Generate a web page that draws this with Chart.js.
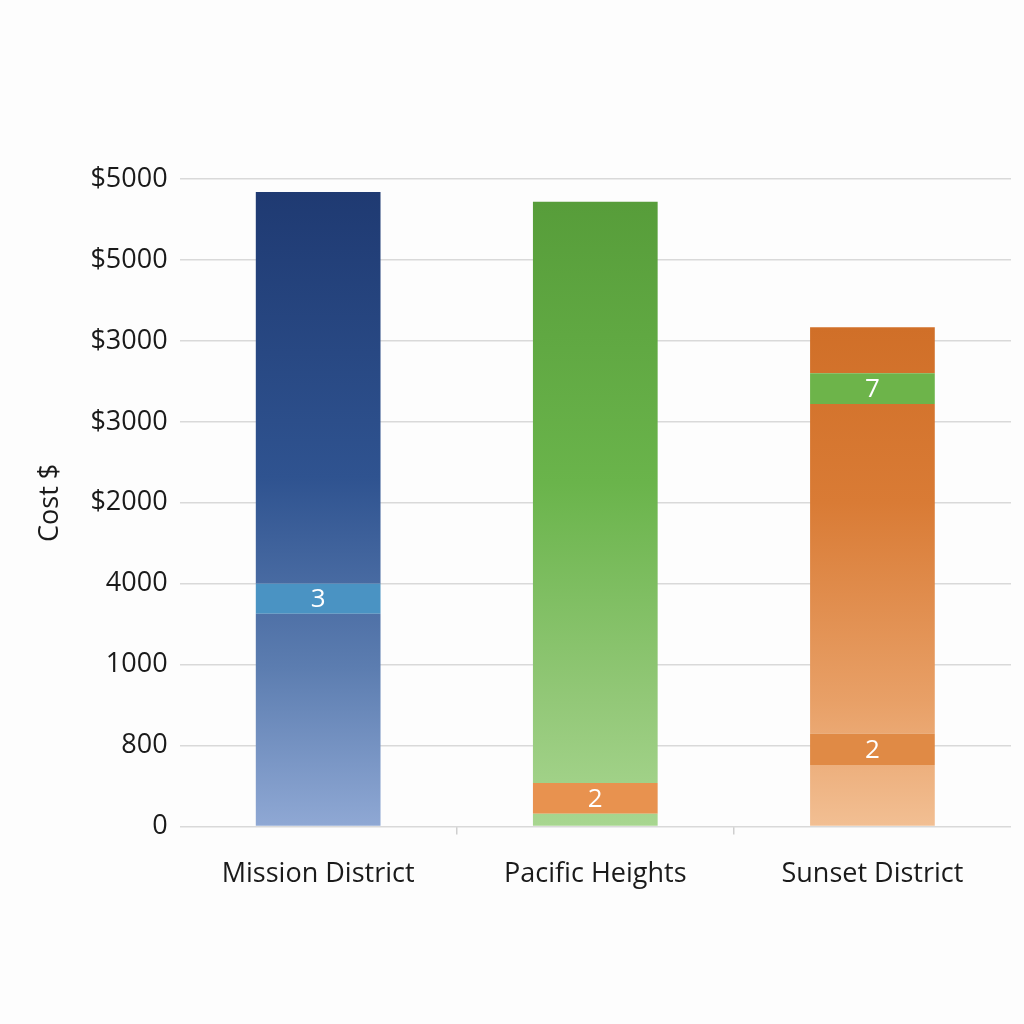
<!DOCTYPE html>
<html>
<head>
<meta charset="utf-8">
<script src="https://cdn.jsdelivr.net/npm/chart.js@4.4.1/dist/chart.umd.min.js"></script>
<style>
  html, body { margin: 0; padding: 0; background: #fdfdfd; }
  #wrap { width: 1024px; height: 1024px; }
</style>
</head>
<body>
<div id="wrap"><canvas id="c" width="1024" height="1024"></canvas></div>
<script>
// ---- data ----
const categories = ["Mission District", "Pacific Heights", "Sunset District"];
// y tick labels, one per grid step (value 0..8), as printed on the reference
const tickLabels = ["0", "800", "1000", "4000", "$2000", "$3000", "$3000", "$5000", "$5000"];
// stacked segments, bottom to top (grid-step units)
const baseSeg  = [2.63, 0.16, 0.76];
const bandA    = [0.37, 0.38, 0.39];
const midSeg   = [4.84, 7.18, 4.07];
const bandB    = [0, 0, 0.38];
const topSeg   = [0, 0, 0.57];
const bandALabels = ["3", "2", "2"];
const bandBLabels = [null, null, "7"];

// ---- styles ----
const barGradients = [
  [[0, "#1f3a72"], [0.45, "#2f5390"], [0.75, "#5c7db0"], [1, "#8fa8d4"]],
  [[0, "#579d3a"], [0.45, "#6ab44b"], [0.8, "#93c878"], [1, "#a8d690"]],
  [[0, "#d06f28"], [0.35, "#d97b35"], [0.75, "#e8a067"], [1, "#f2bf93"]]
];
const bandAColors = ["#4a93c3", "#e8924f", "#e08a45"];
const bandBColors = ["#6db44a", "#6db44a", "#6db44a"];

function totalOf(i) { return baseSeg[i] + bandA[i] + midSeg[i] + bandB[i] + topSeg[i]; }

function gradientFill(ctx) {
  const chart = ctx.chart;
  const area = chart.chartArea;
  if (!area) return barGradients[ctx.dataIndex][0][1];
  const y = chart.scales.y;
  const i = ctx.dataIndex;
  const top = y.getPixelForValue(totalOf(i));
  const bot = y.getPixelForValue(0);
  const g = chart.ctx.createLinearGradient(0, top, 0, bot);
  barGradients[i].forEach(s => g.addColorStop(s[0], s[1]));
  return g;
}

const FONT = "'Open Sans', 'Noto Sans', sans-serif";

const bandLabelPlugin = {
  id: "bandLabels",
  afterDatasetsDraw(chart) {
    const c = chart.ctx;
    c.save();
    c.fillStyle = "#ffffff";
    c.font = "26px " + FONT;
    c.textAlign = "center";
    c.textBaseline = "middle";
    [[1, bandALabels], [3, bandBLabels]].forEach(([dsIdx, labels]) => {
      const meta = chart.getDatasetMeta(dsIdx);
      meta.data.forEach((el, i) => {
        if (!labels[i]) return;
        const cy = (el.y + el.base) / 2;
        c.fillText(labels[i], el.x, cy + 1);
      });
    });
    c.restore();
  }
};

const common = { stack: "s", borderWidth: 0, barPercentage: 1, categoryPercentage: 0.45 };

new Chart(document.getElementById("c"), {
  type: "bar",
  data: {
    labels: categories,
    datasets: [
      Object.assign({ label: "base", data: baseSeg, backgroundColor: gradientFill }, common),
      Object.assign({ label: "bandA", data: bandA, backgroundColor: bandAColors }, common),
      Object.assign({ label: "mid", data: midSeg, backgroundColor: gradientFill }, common),
      Object.assign({ label: "bandB", data: bandB, backgroundColor: bandBColors }, common),
      Object.assign({ label: "top", data: topSeg, backgroundColor: gradientFill }, common)
    ]
  },
  options: {
    responsive: false,
    animation: false,
    devicePixelRatio: 1,
    layout: { padding: { top: 179, right: 13, bottom: 109, left: 30 } },
    plugins: { legend: { display: false }, tooltip: { enabled: false } },
    scales: {
      x: {
        stacked: true,
        grid: {
          offset: true,
          drawOnChartArea: false,
          drawTicks: true,
          tickLength: 8,
          lineWidth: 1.5,
          color: (ctx) => (ctx.index === undefined || ctx.index === 0 || ctx.type !== "tick") ? "rgba(0,0,0,0)" : "#cfcfcf"
        },
        border: { display: false },
        ticks: { color: "#1a1a1a", font: { family: FONT, size: 27 }, padding: 24 }
      },
      y: {
        stacked: true,
        min: 0,
        max: 8,
        ticks: {
          stepSize: 1,
          color: "#1a1a1a",
          font: { family: FONT, size: 27 },
          padding: 12,
          callback: (v) => tickLabels[v]
        },
        grid: { color: "#d9d9d9", lineWidth: 1.5, drawTicks: false },
        border: { display: false },
        title: { display: true, text: "Cost $", color: "#1a1a1a", font: { family: FONT, size: 27 }, padding: { bottom: 12 } }
      }
    }
  },
  plugins: [bandLabelPlugin]
});
</script>
</body>
</html>
